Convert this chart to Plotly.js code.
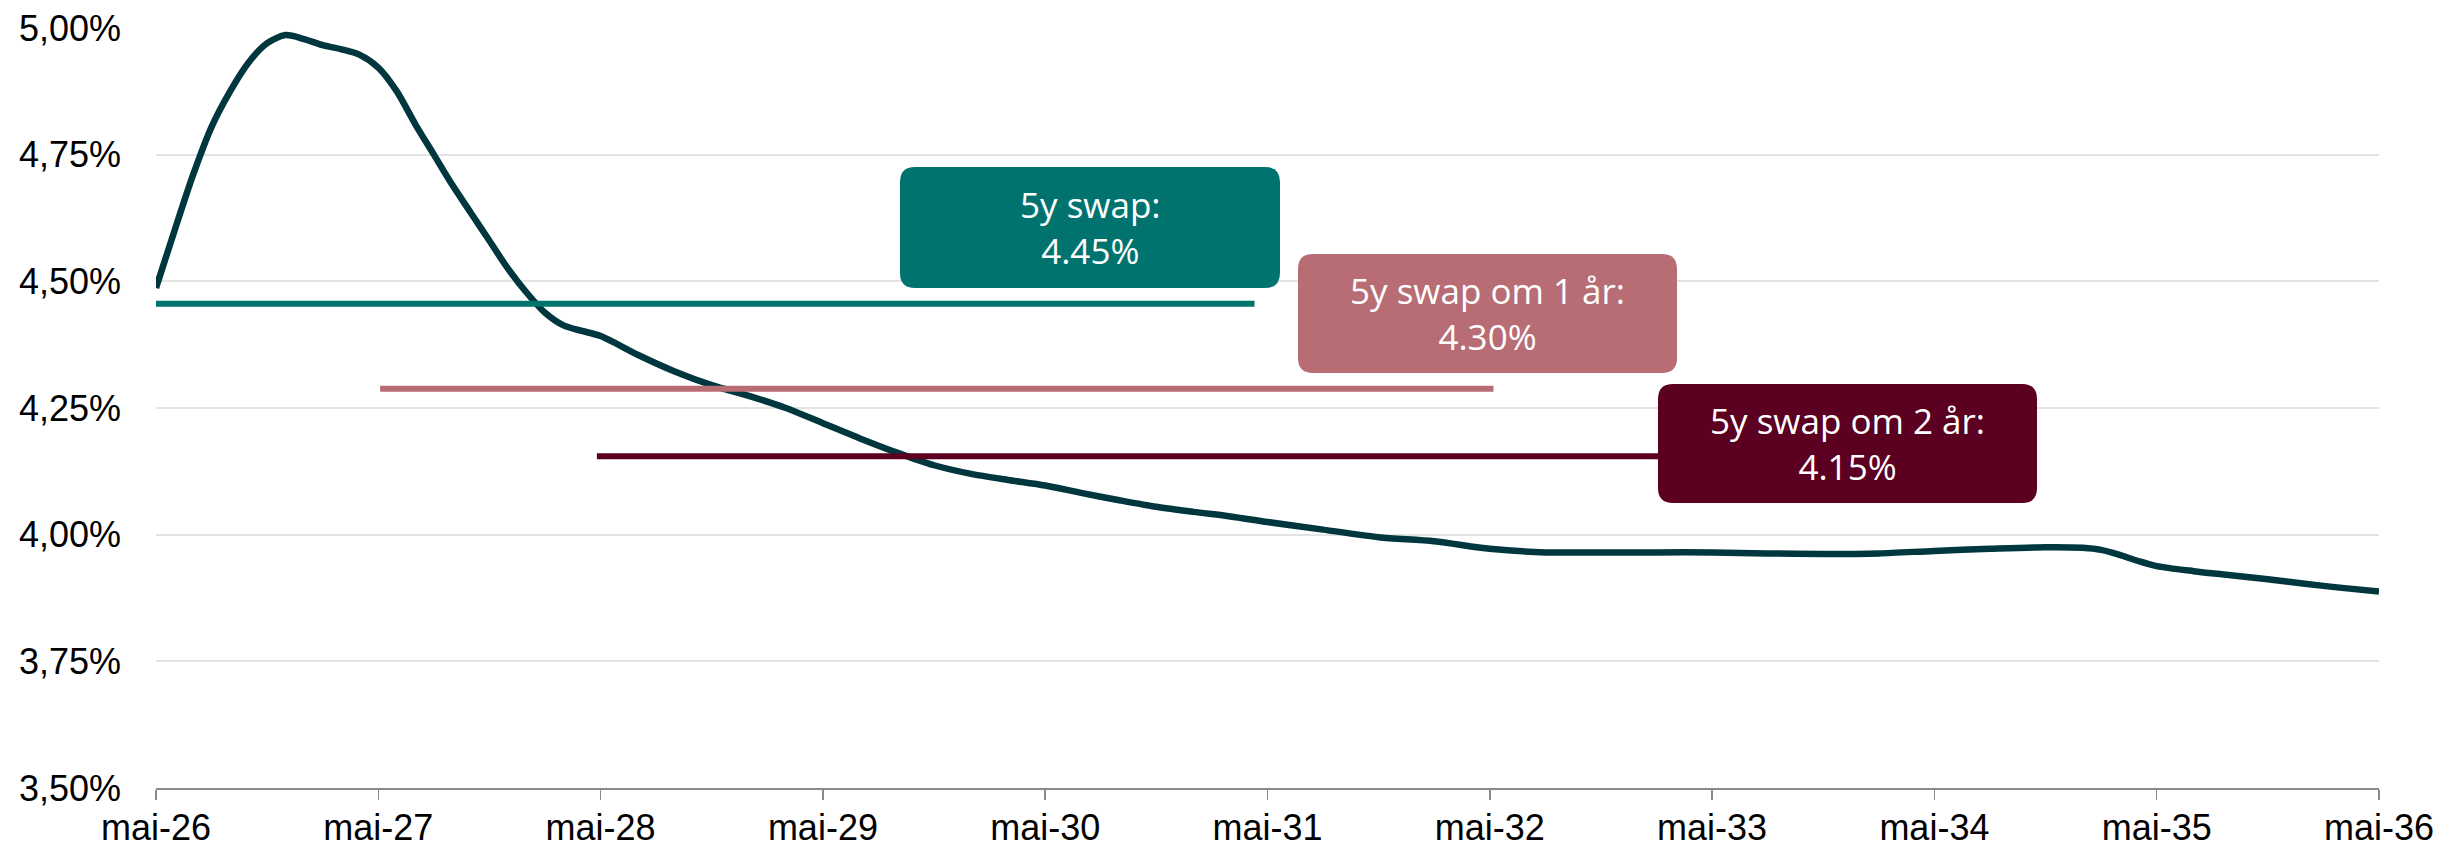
<!DOCTYPE html>
<html>
<head>
<meta charset="utf-8">
<script src="https://cdn.plot.ly/plotly-3.0.1.min.js"></script>
<style>html,body{margin:0;padding:0;background:#fff;}#chart{width:2441px;height:849px;}</style>
</head>
<body>
<div id="chart"></div>
<script>
// Months since mai-26
var curveMonths = [0,1,2,3,4,5,6,7,8,9,10,11,12,13,14,15,16,17,18,19,20,21,22,23,24,26,28,30,32,34,36,38,40,42,44,46,48,50,52,54,56,58,60,63,66,69,72,75,78,81,84,87,90,93,96,99,102,104,105,106,107,108,110,112,114,116,118,120];
var curveValues = [4.487,4.60,4.71,4.805,4.875,4.932,4.970,4.986,4.978,4.966,4.958,4.947,4.922,4.875,4.810,4.750,4.690,4.635,4.580,4.525,4.478,4.438,4.413,4.402,4.392,4.355,4.322,4.295,4.274,4.250,4.220,4.190,4.162,4.137,4.120,4.108,4.097,4.082,4.068,4.055,4.045,4.036,4.025,4.010,3.995,3.987,3.972,3.965,3.965,3.965,3.965,3.963,3.962,3.963,3.968,3.972,3.975,3.974,3.970,3.960,3.948,3.938,3.928,3.920,3.912,3.903,3.895,3.888];

var tickMonths = [0,12,24,36,48,60,72,84,96,108,120];
var tickLabels = ["mai-26","mai-27","mai-28","mai-29","mai-30","mai-31","mai-32","mai-33","mai-34","mai-35","mai-36"];

var swapNames = ["5y swap:", "5y swap om 1 år:", "5y swap om 2 år:"];
var swapLabels = ["4.45%", "4.30%", "4.15%"];
var swapLevels = [4.456, 4.288, 4.155];
var swapStart = [-0.75, 12.1, 23.8];
var swapEnd = [59.3, 72.2, 84];
var swapColors = ["#00736f", "#b86c74", "#5c0021"];

var mainColor = "#00373e";

// layout geometry (px)
var W = 2441, H = 849;
var mL = 156, mR = 62, mT = 28, mB = 61;
var pw = W - mL - mR, ph = H - mT - mB;

var traces = [{
  x: curveMonths, y: curveValues, type: "scatter", mode: "lines",
  line: {color: mainColor, width: 6.5, shape: "spline", smoothing: 0.8},
  hoverinfo: "skip"
}];
for (var i = 0; i < swapLevels.length; i++) {
  traces.push({
    x: [swapStart[i], swapEnd[i]], y: [swapLevels[i], swapLevels[i]],
    type: "scatter", mode: "lines",
    line: {color: swapColors[i], width: 6},
    hoverinfo: "skip"
  });
}

// label boxes (pixel rectangles -> paper coordinates)
var boxPx = [[900,167,1280,288],[1298,254,1677,373],[1658,384,2037,503]];
function px2paperX(px){ return (px - mL) / pw; }
function px2paperY(py){ return (H - mB - py) / ph; }
var shapes = [], annotations = [];
var r = 15;
for (var j = 0; j < boxPx.length; j++) {
  var b = boxPx[j];
  var x0 = px2paperX(b[0]), x1 = px2paperX(b[2]);
  var y0 = px2paperY(b[3]), y1 = px2paperY(b[1]);
  var rx = r / pw, ry = r / ph;
  var p = "M " + (x0+rx) + "," + y1 +
          " L " + (x1-rx) + "," + y1 +
          " Q " + x1 + "," + y1 + " " + x1 + "," + (y1-ry) +
          " L " + x1 + "," + (y0+ry) +
          " Q " + x1 + "," + y0 + " " + (x1-rx) + "," + y0 +
          " L " + (x0+rx) + "," + y0 +
          " Q " + x0 + "," + y0 + " " + x0 + "," + (y0+ry) +
          " L " + x0 + "," + (y1-ry) +
          " Q " + x0 + "," + y1 + " " + (x0+rx) + "," + y1 + " Z";
  shapes.push({type: "path", xref: "paper", yref: "paper", path: p,
    fillcolor: swapColors[j], line: {width: 0}, layer: "above"});
  annotations.push({
    xref: "paper", yref: "paper",
    x: (x0 + x1) / 2, y: (y0 + y1) / 2,
    xanchor: "center", yanchor: "middle",
    text: swapNames[j] + "<br>" + swapLabels[j],
    showarrow: false,
    font: {family: "Open Sans, sans-serif", size: 35, color: "#ffffff"},
    align: "center"
  });
}

var layout = {
  width: W, height: H,
  margin: {l: mL, r: mR, t: mT, b: mB, pad: 0},
  paper_bgcolor: "#ffffff", plot_bgcolor: "#ffffff",
  showlegend: false, hovermode: false,
  separators: ", ",
  font: {family: "Liberation Sans, Arial, sans-serif", size: 36, color: "#000000"},
  xaxis: {
    range: [0, 120], tickmode: "array", tickvals: tickMonths, ticktext: tickLabels,
    showgrid: false, zeroline: false, showline: true, linecolor: "#8a8a8a", linewidth: 2,
    ticks: "outside", ticklen: 10, tickwidth: 1.5, tickcolor: "#8a8a8a",
    ticklabelstandoff: -3,
    tickfont: {size: 36, color: "#000"}, fixedrange: true
  },
  yaxis: {
    range: [3.5, 5.0], tickmode: "linear", tick0: 3.5, dtick: 0.25,
    tickformat: ".2f", ticksuffix: "%",
    showgrid: true, gridcolor: "#e3e3e3", gridwidth: 2, zeroline: false, showline: false,
    ticks: "", ticklabelstandoff: 34,
    tickfont: {size: 36, color: "#000"}, fixedrange: true
  },
  shapes: shapes,
  annotations: annotations
};

Plotly.newPlot("chart", traces, layout, {displayModeBar: false, staticPlot: true});
</script>
</body>
</html>
